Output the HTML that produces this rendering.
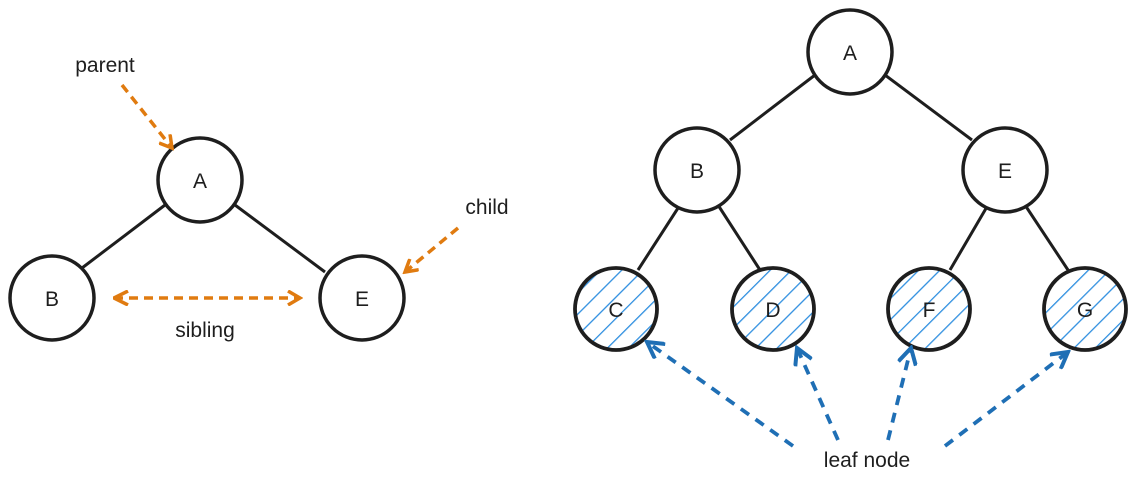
<!DOCTYPE html>
<html><head><meta charset="utf-8"><style>
html,body{margin:0;padding:0;background:#fff;}
svg{display:block;}
text{font-family:"Liberation Sans",sans-serif;font-size:21px;fill:#1e1e1e;}
</style></head><body>
<svg width="1137" height="486" viewBox="0 0 1137 486" xmlns="http://www.w3.org/2000/svg">
<defs>
<pattern id="h" patternUnits="userSpaceOnUse" width="15" height="15" patternTransform="rotate(45)">
<line x1="0" y1="0" x2="0" y2="15" stroke="#2f8fe0" stroke-width="2.6"/>
</pattern>
<marker id="ao" markerWidth="16" markerHeight="16" refX="13" refY="8" orient="auto" markerUnits="userSpaceOnUse"><path d="M1,1 L13,8 L1,15" fill="none" stroke="#e07b10" stroke-width="3.5"/></marker>
<marker id="aos" markerWidth="16" markerHeight="16" refX="1" refY="8" orient="auto" markerUnits="userSpaceOnUse"><path d="M15,1 L1,8 L15,15" fill="none" stroke="#e07b10" stroke-width="3.5"/></marker>
<marker id="ab" markerWidth="20" markerHeight="20" refX="17" refY="10" orient="auto" markerUnits="userSpaceOnUse"><path d="M1,1 L17,10 L1,19" fill="none" stroke="#1f6fb5" stroke-width="4"/></marker>
</defs>
<g stroke="#1e1e1e" stroke-width="3" fill="none">
<line x1="165" y1="205" x2="82" y2="268"/>
<line x1="235" y1="205" x2="325" y2="272"/>
<line x1="815" y1="75" x2="730" y2="140"/>
<line x1="885" y1="75" x2="972" y2="140"/>
<line x1="680" y1="205" x2="638" y2="270"/>
<line x1="718" y1="205" x2="760" y2="270"/>
<line x1="988" y1="205" x2="950" y2="270"/>
<line x1="1025" y1="205" x2="1068" y2="270"/>
</g>
<g stroke="#1e1e1e" stroke-width="3.5" fill="#fff">
<circle cx="200" cy="180" r="42"/>
<circle cx="52" cy="298" r="42"/>
<circle cx="362" cy="298" r="42"/>
<circle cx="850" cy="52" r="42"/>
<circle cx="697" cy="170" r="42"/>
<circle cx="1005" cy="170" r="42"/>
</g>
<g stroke="#1e1e1e" stroke-width="3.8" fill="url(#h)">
<circle cx="616" cy="309" r="41"/>
<circle cx="773" cy="309" r="41"/>
<circle cx="929" cy="309" r="41"/>
<circle cx="1085" cy="309" r="41"/>
</g>
<g text-anchor="middle">
<text x="200" y="188">A</text>
<text x="52" y="306">B</text>
<text x="362" y="306">E</text>
<text x="850" y="60">A</text>
<text x="697" y="178">B</text>
<text x="1005" y="178">E</text>
<text x="616" y="317">C</text>
<text x="773" y="317">D</text>
<text x="929" y="317">F</text>
<text x="1085" y="317">G</text>
<text x="105" y="72">parent</text>
<text x="487" y="214">child</text>
<text x="205" y="337">sibling</text>
<text x="867" y="467">leaf node</text>
</g>
<g stroke="#e07b10" stroke-width="3.5" stroke-dasharray="9 6" fill="none">
<line x1="122" y1="85" x2="172" y2="148" marker-end="url(#ao)"/>
<line x1="458" y1="228" x2="405" y2="272" marker-end="url(#ao)"/>
<line x1="114" y1="298" x2="300" y2="298" marker-end="url(#ao)" marker-start="url(#aos)"/>
</g>
<g stroke="#1f6fb5" stroke-width="3.8" stroke-dasharray="10 8" fill="none">
<line x1="793" y1="446" x2="647" y2="342" marker-end="url(#ab)"/>
<line x1="838" y1="440" x2="797" y2="348" marker-end="url(#ab)"/>
<line x1="888" y1="440" x2="911" y2="348" marker-end="url(#ab)"/>
<line x1="945" y1="446" x2="1068" y2="352" marker-end="url(#ab)"/>
</g>
</svg>
</body></html>
